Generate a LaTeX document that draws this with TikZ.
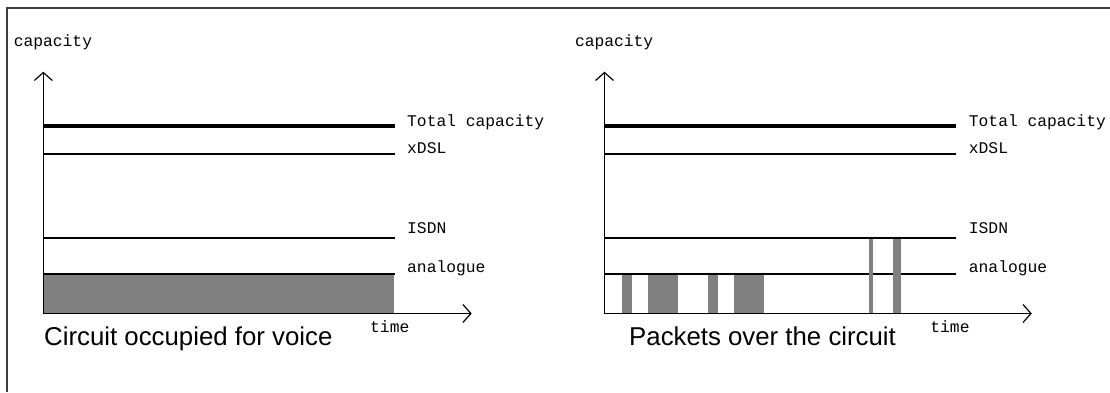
\documentclass[tikz,border=0pt]{standalone}
\usepackage{fontspec}
\setmainfont{Liberation Sans}
\newfontfamily\labelfont{Liberation Mono}
\usetikzlibrary{arrows.meta}
\definecolor{bargray}{RGB}{128,128,128}
\definecolor{framegray}{RGB}{60,60,60}
\begin{document}
\begin{tikzpicture}[x=1pt,y=-1pt,
  lbl/.style={inner sep=0pt, anchor=base west, font=\labelfont\fontsize{16.3}{18}\selectfont},
  caption/.style={inner sep=0pt, anchor=base west, font=\fontsize{25.8}{30}\selectfont},
  axisline/.style={line width=1.3pt, -{Straight Barb[length=8pt,width=18pt,line width=1.2pt]}},
  level/.style={line width=1.2pt},
  totalline/.style={line width=3.5pt},
  bar/.style={fill=bargray, draw=none},
  frame/.style={line width=1.5pt, draw=framegray}]
\useasboundingbox (0,0) rectangle (1110,392);
\draw[frame] (7,392) -- (7,8) -- (1110,8);

% ---------- left panel ----------
\begin{scope}
\fill[bar] (43.3,274.6) rectangle (393.5,313);
\draw[level] (43.3,154) -- (395,154);
\draw[level] (43.3,238) -- (395,238);
\draw[level] (43.3,274) -- (395,274);
\draw[totalline] (43.3,126) -- (395,126);
\coordinate (Lo) at (43.3,313.5);
\coordinate (Ly) at (43.3,71.7);
\coordinate (Lx) at (471.7,313.5);
\draw[axisline] (Lo) -- (Ly);
\draw[axisline] (Lo) -- (Lx);
\node[lbl] (Lcap) at (13.6,46) {capacity};
\node[lbl] (Ltot) at (407,126) {Total capacity};
\node[lbl] (Lxdsl) at (407,153) {xDSL};
\node[lbl] (Lisdn) at (407,233) {ISDN};
\node[lbl] (Lana) at (407,272.5) {analogue};
\node[lbl] (Ltime) at (370,332) {time};
\node[caption] (Lcapt) at (44,345.5) {Circuit occupied for voice};
\end{scope}

% ---------- right panel ----------
\begin{scope}[xshift=561.2pt]
\draw[level] (43.3,154) -- (395,154);
\draw[level] (43.3,238) -- (395,238);
\draw[level] (43.3,274) -- (395,274);
\draw[totalline] (43.3,126) -- (395,126);
\node[lbl] (Rcap) at (13.6,46) {capacity};
\node[lbl] (Rtot) at (407.5,126) {Total capacity};
\node[lbl] (Rxdsl) at (407.5,153) {xDSL};
\node[lbl] (Risdn) at (407.5,233) {ISDN};
\node[lbl] (Rana) at (407.5,272.5) {analogue};
\node[lbl] (Rtime) at (369,332) {time};
\end{scope}
% packets
\fill[bar] (622.3,274.6) rectangle (631.7,313);
\fill[bar] (648.3,274.6) rectangle (677.7,313);
\fill[bar] (708.3,274.6) rectangle (718.3,313);
\fill[bar] (734.3,274.6) rectangle (764.3,313);
\fill[bar] (868.7,238.6) rectangle (872.7,313);
\fill[bar] (892.7,238.6) rectangle (900.7,313);
\coordinate (Ro) at (604.5,313.5);
\coordinate (Ry) at (604.5,71.7);
\coordinate (Rx) at (1031.8,313.5);
\draw[axisline] (Ro) -- (Ry);
\draw[axisline] (Ro) -- (Rx);
\node[caption] (Rcapt) at (629,345.5) {Packets over the circuit};
\end{tikzpicture}
\end{document}
